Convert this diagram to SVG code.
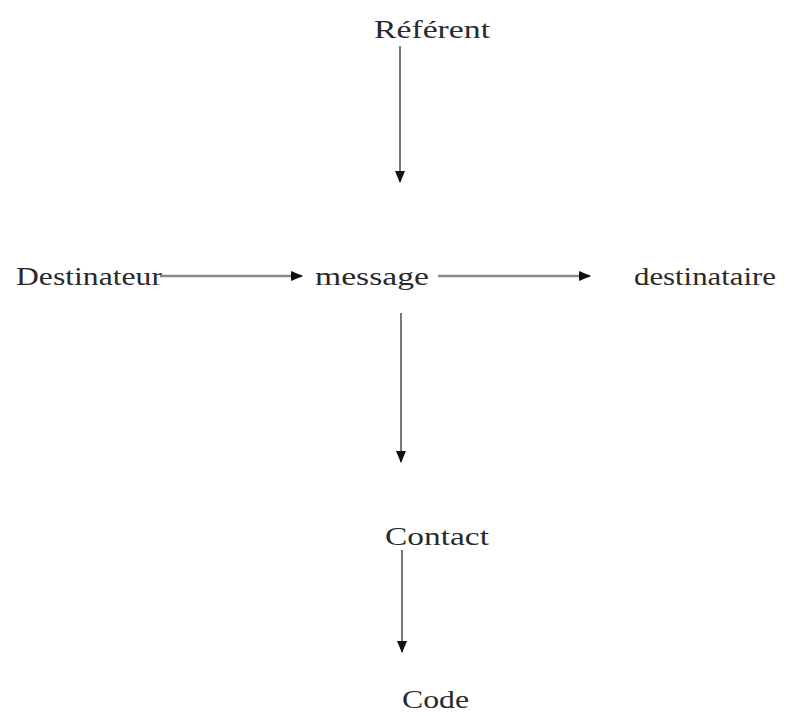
<svg xmlns="http://www.w3.org/2000/svg" width="787" height="716" viewBox="0 0 787 716">
<style>
text{font-family:"Liberation Serif","Times New Roman",serif;font-size:25px;fill:#2a2a2a}
.c{stroke:#555;stroke-width:1.6;fill:none}
.h{stroke:#888;stroke-width:2.6;fill:none}
</style>
<defs>
<marker id="ah" markerWidth="12" markerHeight="10" refX="11" refY="5" orient="auto" markerUnits="userSpaceOnUse">
<path d="M0,0 L12,5 L0,10 Z" fill="#111"/>
</marker>
</defs>
<rect width="787" height="716" fill="#fff"/>
<g id="referent"><text x="374" y="38" textLength="116" lengthAdjust="spacingAndGlyphs">Référent</text></g>
<g id="destinateur"><text x="16" y="285" textLength="146" lengthAdjust="spacingAndGlyphs">Destinateur</text></g>
<g id="message"><text x="315" y="285" textLength="114" lengthAdjust="spacingAndGlyphs">message</text></g>
<g id="destinataire"><text x="634" y="285" textLength="142" lengthAdjust="spacingAndGlyphs">destinataire</text></g>
<g id="contact"><text x="385" y="545" textLength="104" lengthAdjust="spacingAndGlyphs">Contact</text></g>
<g id="code"><text x="402" y="708" textLength="67" lengthAdjust="spacingAndGlyphs">Code</text></g>
<g id="connectors">
<line class="c" x1="400" y1="46" x2="400" y2="182" marker-end="url(#ah)"/>
<line class="h" x1="160" y1="276" x2="302" y2="276" marker-end="url(#ah)"/>
<line class="h" x1="438" y1="276" x2="590" y2="276" marker-end="url(#ah)"/>
<line class="c" x1="401" y1="313" x2="401" y2="462" marker-end="url(#ah)"/>
<line class="c" x1="402" y1="550" x2="402" y2="652" marker-end="url(#ah)"/>
</g>
</svg>
